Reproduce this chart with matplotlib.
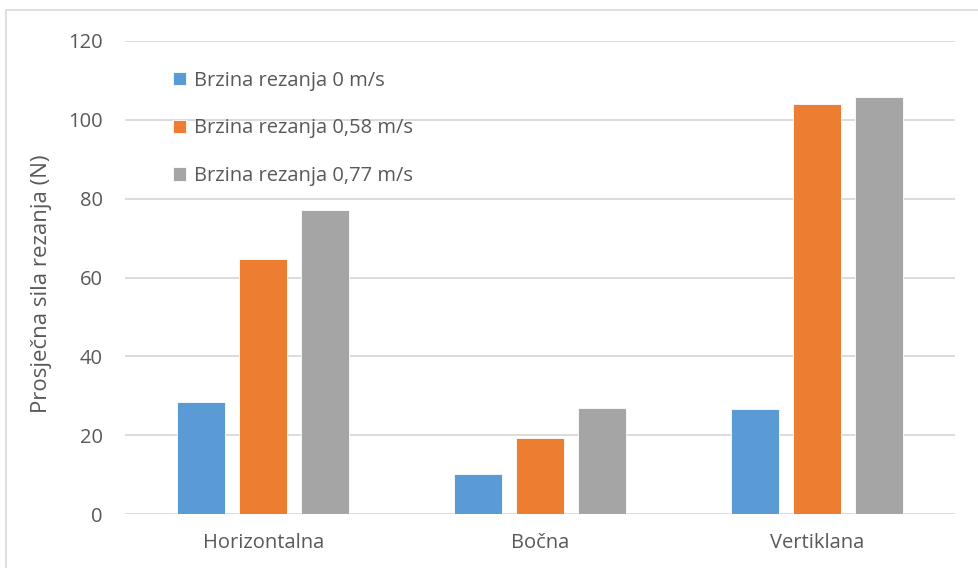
import matplotlib.pyplot as plt
from matplotlib.patches import Rectangle
import numpy as np

# podaci
kategorije = ['Horizontalna', 'Bočna', 'Vertiklana']
serije = ['Brzina rezanja 0 m/s', 'Brzina rezanja 0,58 m/s', 'Brzina rezanja 0,77 m/s']
brzina_0 = [28.3, 10.2, 26.7]
brzina_058 = [64.6, 19.4, 104.0]
brzina_077 = [77.1, 26.8, 105.9]
boje = ['#5B9BD5', '#ED7D31', '#A5A5A5']

plt.rcParams['font.family'] = ['Open Sans', 'DejaVu Sans']
siva = '#595959'

fig = plt.figure(figsize=(9.79, 5.68), dpi=100)
ax = fig.add_axes([125 / 979, 54 / 568, 830 / 979, 473 / 568])

# okvir oko grafikona (desni i donji rub izlaze iz slike)
fig.patches.append(Rectangle((6 / 979, -0.5), 1.5, 1.5 - 10 / 568, transform=fig.transFigure,
                             fill=False, edgecolor='#d9d9d9', linewidth=1.2))

x = np.arange(len(kategorije))
sirina = 0.173
korak = 0.224
for i, (vrijednosti, ime) in enumerate(zip([brzina_0, brzina_058, brzina_077], serije)):
    ax.bar(x + (i - 1) * korak, vrijednosti, sirina, color=boje[i], label=ime,
           edgecolor='white', linewidth=0.6, zorder=3)

ax.set_xlim(-0.5, 2.5)
ax.set_ylim(0, 120)
ax.set_yticks(range(0, 121, 20))
ax.set_xticks(x)
ax.set_xticklabels(kategorije)
ax.grid(axis='y', color='#d9d9d9', linewidth=1.3, zorder=0)
for s in ax.spines.values():
    s.set_visible(False)
ax.tick_params(length=0, labelsize=14.5, colors=siva)
ax.tick_params(axis='y', pad=16)
ax.tick_params(axis='x', pad=14)

fig.text(42 / 979, 0.5, 'Prosječna sila rezanja (N)', rotation=90, ha='center', va='center',
         fontsize=16, color=siva)

leg = ax.legend(loc='upper left', bbox_to_anchor=(0.058, 0.937), frameon=False, fontsize=14.5,
                handlelength=0.65, handleheight=0.65, handletextpad=0.4, labelspacing=1.37,
                borderpad=0, borderaxespad=0)
for t in leg.get_texts():
    t.set_color(siva)

fig.savefig('out.png', dpi=100)
